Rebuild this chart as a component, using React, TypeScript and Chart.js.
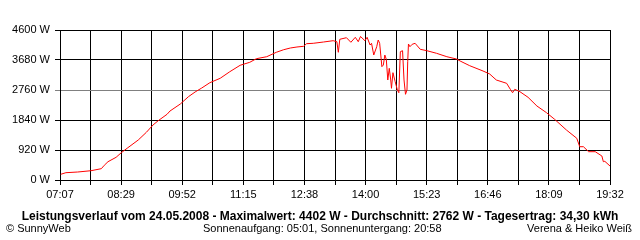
import React, { useEffect, useRef } from "react";
import { Chart, registerables } from "chart.js";

Chart.register(...registerables);

// Time of day (HH:MM) and power in W
const times: string[] = [
  "07:08","07:15","07:31","07:49","08:03","08:07","08:12","08:23","08:30","08:39",
  "08:53","09:04","09:13","09:20","09:32","09:36","09:50","10:01","10:10","10:19",
  "10:30","10:44","10:57","11:11","11:24","11:33","11:47","12:00","12:10","12:19",
  "12:28","12:37","12:41","12:50","13:04","13:17","13:22","13:24","13:26","13:35",
  "13:41","13:47","13:51","13:54","14:00","14:03","14:07","14:09","14:12","14:16",
  "14:18","14:20","14:23","14:25","14:27","14:29","14:31","14:33","14:35","14:36",
  "14:38","14:41","14:44","14:46","14:48","14:51","14:53","14:55","14:57","14:58",
  "14:59","15:01","15:04","15:08","15:15","15:24","15:37","15:51","16:04","16:09",
  "16:22","16:40","16:49","16:58","17:12","17:17","17:20","17:23","17:30","17:41",
  "17:53","18:06","18:17","18:33","18:47","18:51","18:56","19:03","19:12","19:21",
  "19:23","19:25","19:32"
];
const watts: number[] = [
  175,224,245,285,347,451,561,696,837,991,
  1227,1463,1687,1818,2015,2116,2331,2555,2699,2821,
  2984,3119,3321,3518,3609,3720,3781,3916,3996,4048,
  4079,4100,4180,4192,4232,4272,4241,3916,4315,4364,
  4223,4376,4241,4402,4272,4376,4140,4192,3833,4088,
  4293,4192,3475,3527,3833,3701,3067,3425,3067,2812,
  3291,3015,2760,2677,3935,3965,3067,2628,2760,3628,
  4171,4088,4161,4192,4008,3965,3886,3781,3711,3649,
  3505,3343,3251,3067,2965,2781,2677,2781,2708,2536,
  2269,2064,1861,1533,1279,1021,1021,868,868,736,
  561,573,429
];
const xTickLabels: string[] = ["07:07","08:29","09:52","11:15","12:38","14:00","15:23","16:46","18:09","19:32"];
const yTickValues: number[] = [0, 920, 1840, 2760, 3680, 4600];
const averageW = 2760;

const toMin = (s: string) => {
  const [h, m] = s.split(":").map(Number);
  return h * 60 + m;
};
const xMin = toMin("07:07");
const xMax = toMin("19:32");

export default function App() {
  const ref = useRef<HTMLCanvasElement | null>(null);
  useEffect(() => {
    document.body.style.margin = "0";
    if (!ref.current) return;
    const font = { family: "'Liberation Sans', Arial, sans-serif", size: 11 };
    const chart = new Chart(ref.current, {
      type: "line",
      data: {
        datasets: [
          {
            data: times.map((t, i) => ({ x: toMin(t), y: watts[i] })),
            borderColor: "#ff0000",
            borderWidth: 1,
            pointRadius: 0,
            tension: 0,
          },
        ],
      },
      options: {
        animation: false,
        responsive: false,
        devicePixelRatio: 1,
        layout: { padding: { top: 30, right: 30, left: 0, bottom: 0 } },
        plugins: { legend: { display: false }, tooltip: { enabled: false } },
        scales: {
          x: {
            type: "linear",
            min: xMin,
            max: xMax,
            afterBuildTicks: (scale: any) => {
              const n = (xTickLabels.length - 1) * 2;
              scale.ticks = Array.from({ length: n + 1 }, (_, i) => ({
                value: xMin + ((xMax - xMin) * i) / n,
              }));
            },
            afterFit: (scale: any) => {
              scale.height = 60;
            },
            ticks: {
              autoSkip: false,
              maxRotation: 0,
              color: "#000",
              font,
              padding: 3,
              callback: (_v: any, i: number) => (i % 2 === 0 ? xTickLabels[i / 2] : ""),
            },
            grid: { color: "#000", tickLength: 5, lineWidth: 1 },
            border: { color: "#000" },
          },
          y: {
            min: 0,
            max: 4600,
            afterBuildTicks: (scale: any) => {
              scale.ticks = yTickValues.map((v) => ({ value: v }));
            },
            afterFit: (scale: any) => {
              scale.width = 60;
            },
            ticks: {
              color: "#000",
              font,
              padding: 5,
              callback: (v: any) => v + " W",
            },
            grid: {
              color: (ctx: any) => (ctx.tick && ctx.tick.value === averageW ? "#808080" : "#000"),
              tickLength: 5,
              lineWidth: 1,
            },
            border: { color: "#000" },
          },
        },
      },
    });
    return () => chart.destroy();
  }, []);

  const base: React.CSSProperties = {
    position: "absolute",
    fontFamily: "'Liberation Sans', Arial, sans-serif",
    fontSize: 11,
    color: "#000",
    whiteSpace: "nowrap",
    lineHeight: "12px",
  };
  return (
    <div style={{ position: "relative", width: 640, height: 240, background: "#fff" }}>
      <canvas ref={ref} width={640} height={240} style={{ display: "block" }} />
      <div style={{ ...base, left: 0, width: 640, top: 210, textAlign: "center", fontWeight: "bold", fontSize: 12 }}>
        Leistungsverlauf vom 24.05.2008 - Maximalwert: 4402 W - Durchschnitt: 2762 W - Tagesertrag: 34,30 kWh
      </div>
      <div style={{ ...base, left: 6, top: 222 }}>© SunnyWeb</div>
      <div style={{ ...base, left: 203, top: 222 }}>Sonnenaufgang: 05:01, Sonnenuntergang: 20:58</div>
      <div style={{ ...base, right: 8, top: 222 }}>Verena &amp; Heiko Weiß</div>
    </div>
  );
}
